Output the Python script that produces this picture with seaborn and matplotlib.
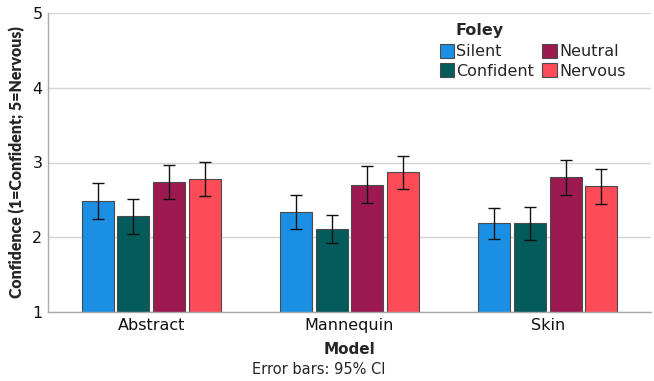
import numpy as np
import pandas as pd
import matplotlib
matplotlib.use("Agg")
import matplotlib.pyplot as plt
import seaborn as sns

models = ["Abstract", "Mannequin", "Skin"]
foley = ["Silent", "Confident", "Neutral", "Nervous"]
colors = ["#1b8fe4", "#045b5b", "#9c1a50", "#fd4c57"]

# Mean confidence per model, one list per foley condition
means = {
    "Silent":    [2.49, 2.34, 2.19],
    "Confident": [2.28, 2.11, 2.19],
    "Neutral":   [2.74, 2.70, 2.80],
    "Nervous":   [2.78, 2.87, 2.68],
}
# 95% CI bounds
ci_low = {
    "Silent":    [2.25, 2.11, 1.98],
    "Confident": [2.04, 1.92, 1.96],
    "Neutral":   [2.51, 2.46, 2.57],
    "Nervous":   [2.55, 2.64, 2.44],
}
ci_high = {
    "Silent":    [2.73, 2.57, 2.39],
    "Confident": [2.51, 2.30, 2.41],
    "Neutral":   [2.97, 2.95, 3.03],
    "Nervous":   [3.01, 3.09, 2.91],
}

rows = []
for f in foley:
    for i, m in enumerate(models):
        rows.append({"Model": m, "Foley": f, "Mean": means[f][i],
                     "Low": ci_low[f][i], "High": ci_high[f][i]})
df = pd.DataFrame(rows)

sns.set_style("white")
plt.rcParams["font.family"] = ["DejaVu Sans"]

fig = plt.figure(figsize=(6.54, 3.81), dpi=100)
ax = fig.add_axes([48 / 654, 69 / 381, 603 / 654, 299 / 381])

sns.barplot(data=df, x="Model", y="Mean", hue="Foley", order=models,
            hue_order=foley, palette=colors, saturation=1, width=0.72,
            gap=0.1, errorbar=None, edgecolor="#4a4a4a", linewidth=0.8,
            ax=ax, zorder=2)

# error bars centred on each bar
for bar_container, f in zip(ax.containers, foley):
    sub = df[df["Foley"] == f].set_index("Model").loc[models]
    xs = [p.get_x() + p.get_width() / 2 for p in bar_container.patches]
    ys = sub["Mean"].values
    yerr = np.vstack([ys - sub["Low"].values, sub["High"].values - ys])
    ax.errorbar(xs, ys, yerr=yerr, fmt="none", ecolor="#111111",
                elinewidth=1.0, capsize=4, capthick=1.0, zorder=3)

ax.set_ylim(1, 5)
ax.set_xlim(-0.52, 2.52)
ax.set_yticks([1, 2, 3, 4, 5])
ax.yaxis.grid(True, color="#d4d4d4", linewidth=1.0, zorder=0)
ax.set_axisbelow(True)
for s in ["top", "right"]:
    ax.spines[s].set_visible(False)
for s in ["left", "bottom"]:
    ax.spines[s].set_color("#aaaaaa")
    ax.spines[s].set_linewidth(1.0)
ax.tick_params(axis="both", length=0, labelsize=11.5, colors="#111111", pad=4)

ax.set_ylabel("Confidence (1=Confident; 5=Nervous)", fontsize=11.4,
              fontweight="heavy", family="Lato", labelpad=5)
ax.set_xlabel("Model", fontsize=11, fontweight="bold", labelpad=7)
fig.text(0.487, 0.01, "Error bars: 95% CI", ha="center", va="bottom",
         fontsize=10.5)

leg = ax.legend(ncol=2, loc="upper right",
                bbox_to_anchor=(0.975, 0.93), frameon=False, fontsize=11.5,
                handlelength=0.9, handleheight=0.9, handletextpad=0.15,
                columnspacing=0.5, labelspacing=0.25, borderpad=0.15)
fig.text(480 / 654, 1 - 30 / 381, "Foley", ha="center", va="center",
         fontsize=11.5, fontweight="bold")

fig.savefig("out.png", dpi=100)
